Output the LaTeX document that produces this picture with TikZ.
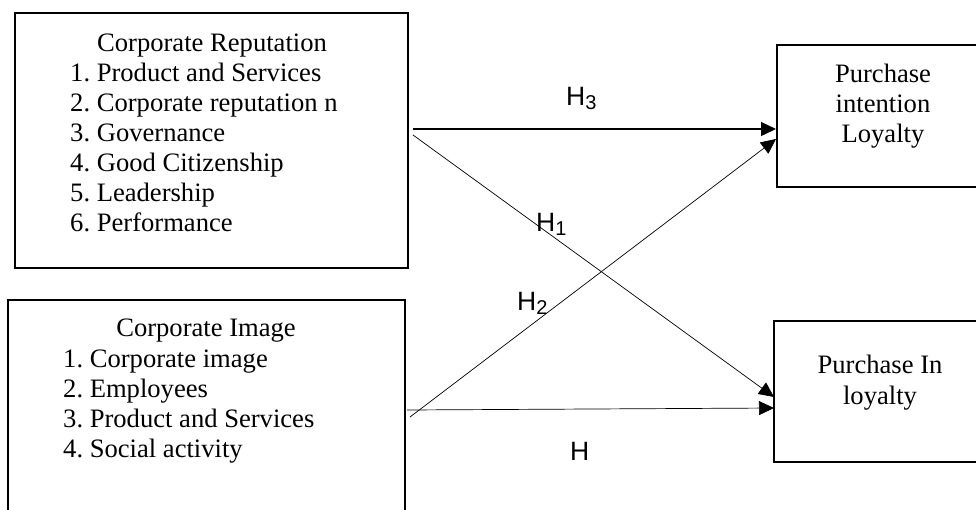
\documentclass[tikz,border=0pt]{standalone}
\usepackage{fontspec}
\setmainfont{Liberation Serif}
\newfontfamily\labfont{Liberation Sans}
\usetikzlibrary{arrows.meta}
\frenchspacing
\newcommand{\hsub}[1]{H\raisebox{-4pt}{\fontsize{20}{20}\selectfont #1}}
\begin{document}
\begin{tikzpicture}[x=1pt,y=-1pt,
  box/.style={draw,line width=2pt,rectangle,inner sep=0pt},
  txt/.style={anchor=base west,inner sep=0pt,font=\fontsize{26.6}{30}\selectfont},
  ctxt/.style={anchor=base,inner sep=0pt,font=\fontsize{26.6}{30}\selectfont},
  lab/.style={anchor=base west,inner sep=0pt,font=\labfont\fontsize{26.5}{30}\selectfont},
  thinarrow/.style={line width=0.7pt,-{Triangle[length=15pt,width=14pt]}},
  thickarrow/.style={line width=1.4pt,-{Triangle[length=15pt,width=14pt]}}]
\clip (0,0) rectangle (976,509);
\fill[white] (0,0) rectangle (976,509);
% boxes
\node[box,minimum width=393pt,minimum height=255pt] (b1) at (211.5,140.5) {};
\node[box,minimum width=397pt,minimum height=240pt] (b2) at (206.5,420) {};
\node[box,minimum width=223pt,minimum height=142pt] (b3) at (888.5,116) {};
\node[box,minimum width=226pt,minimum height=141pt] (b4) at (887,391.5) {};
% box 1 text
\node[ctxt] (t1) at (212,51) {Corporate Reputation};
\node[txt] (t1a) at (70,81) {1. Product and Services};
\node[txt] (t1b) at (70,111) {2. Corporate reputation n};
\node[txt] (t1c) at (70,141) {3. Governance};
\node[txt] (t1d) at (70,171) {4. Good Citizenship};
\node[txt] (t1e) at (70,201) {5. Leadership};
\node[txt] (t1f) at (70,231) {6. Performance};
% box 2 text
\node[ctxt] (t2) at (206,336) {Corporate Image};
\node[txt] (t2a) at (63,367) {1. Corporate image};
\node[txt] (t2b) at (63,397) {2. Employees};
\node[txt] (t2c) at (63,427) {3. Product and Services};
\node[txt] (t2d) at (63,457) {4. Social activity};
% box 3 text
\node[ctxt] (t3a) at (883,82) {Purchase};
\node[ctxt] (t3b) at (883,112) {intention};
\node[ctxt] (t3c) at (883,142) {Loyalty};
% box 4 text
\node[ctxt] (t4a) at (880,373) {Purchase In};
\node[ctxt] (t4b) at (880,404) {loyalty};
% connector start points
\coordinate (s3) at (413,129);
\coordinate (s1) at (413,135);
\coordinate (s2) at (410,417);
\coordinate (s0) at (407,410);
\coordinate (e1) at (774,397);
\coordinate (e2) at (776,139);
\coordinate (e0) at (774,408);
% connectors
\draw[thickarrow] (s3) -- (s3 -| b3.west);
\draw[thinarrow] (s1) -- (e1);
\draw[thinarrow] (s2) -- (e2);
\draw[thinarrow] (s0) -- (e0);
% labels
\node[lab] (h3) at (566,105) {\hsub{3}};
\node[lab] (h1) at (536,231) {\hsub{1}};
\node[lab] (h2) at (517,310) {\hsub{2}};
\node[lab] (h0) at (570,460) {H};
\end{tikzpicture}
\end{document}
